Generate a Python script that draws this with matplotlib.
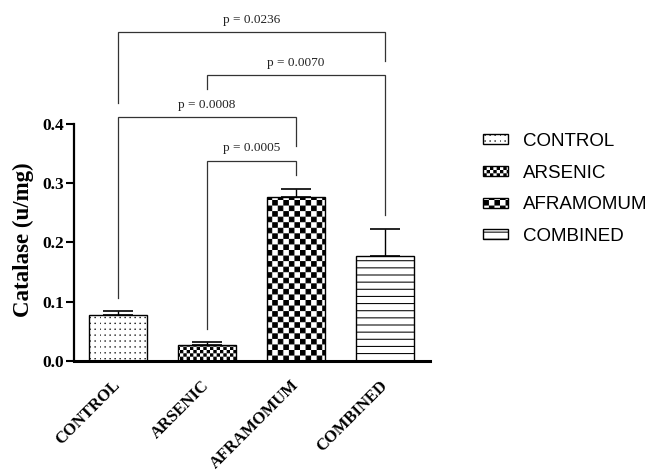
import numpy as np
import matplotlib
matplotlib.use("Agg")
import matplotlib.pyplot as plt
import matplotlib.hatch as mhatch
import matplotlib.transforms as mtransforms
from matplotlib.path import Path

# ---------------- data ----------------
categories = ["CONTROL", "ARSENIC", "AFRAMOMUM", "COMBINED"]
catalase = [0.077, 0.027, 0.276, 0.178]
sem = [0.007, 0.0045, 0.015, 0.045]
yticks = [0.0, 0.1, 0.2, 0.3, 0.4]
ytick_labels = ["0.0", "0.1", "0.2", "0.3", "0.4"]

cmp_pairs = [(0, 3), (1, 3), (0, 2), (1, 2)]
cmp_labels = ["p = 0.0236", "p = 0.0070", "p = 0.0008", "p = 0.0005"]
cmp_height = [0.555, 0.482, 0.411, 0.338]
cmp_left_end = [0.435, 0.459, 0.106, 0.054]
cmp_right_end = [0.506, 0.246, 0.363, 0.314]

# ---------------- custom hatch patterns ----------------
HATCH_LW = 0.75  # points
_inset = (HATCH_LW * 100 / 72) / 2 / 100.0


class _CustomHatch(mhatch.HatchPatternBase):
    char = None

    def __init__(self, hatch, density):
        if hatch is not None and self.char in hatch:
            self.verts, self.codes = self.build()
        else:
            self.verts, self.codes = np.empty((0, 2)), np.empty(0, dtype=Path.code_type)
        self.num_vertices = len(self.verts)

    def set_vertices_and_codes(self, vertices, codes):
        vertices[:] = self.verts
        codes[:] = self.codes


def _squares(cells_x, cells_y, pick, w, h):
    vs, cs = [], []
    sq_codes = [Path.MOVETO, Path.LINETO, Path.LINETO, Path.LINETO, Path.CLOSEPOLY]
    for i in range(cells_x):
        for j in range(cells_y):
            if not pick(i, j):
                continue
            x0, y0 = i / cells_x, j / cells_y
            vs.extend([(x0, y0), (x0 + w, y0), (x0 + w, y0 + h), (x0, y0 + h), (x0, y0)])
            cs.extend(sq_codes)
    return np.array(vs, float), np.array(cs, dtype=Path.code_type)


class BigChecker(_CustomHatch):
    char = "O"

    def build(self):
        n = 18
        s = 1.0 / n - 2 * _inset
        v, c = _squares(n, n, lambda i, j: (i + j) % 2 == 0, s, s)
        return v + _inset, c


class FineChecker(_CustomHatch):
    char = "x"

    def build(self):
        n = 30
        s = 1.0 / n - 2 * _inset
        v, c = _squares(n, n, lambda i, j: (i + j) % 2 == 0, s, s)
        return v + _inset, c


class DotGrid(_CustomHatch):
    char = "."

    def build(self):
        s = 0.003
        v, c = _squares(20, 17, lambda i, j: True, s, s)
        return v, c


class HLines(_CustomHatch):
    char = "-"

    def build(self):
        n = 14
        vs, cs = [], []
        for k in range(n):
            y = (k + 0.5) / n
            vs.extend([(0.0, y), (1.0, y)])
            cs.extend([Path.MOVETO, Path.LINETO])
        return np.array(vs, float), np.array(cs, dtype=Path.code_type)


mhatch._hatch_types = [BigChecker, FineChecker, DotGrid, HLines]

plt.rcParams["hatch.linewidth"] = HATCH_LW
plt.rcParams["hatch.color"] = "black"

hatches = [".", "x", "O", "-"]

# ---------------- figure ----------------
fig = plt.figure(figsize=(6.56, 4.73), dpi=100)
ax = fig.add_axes([73.5 / 656, 112 / 473, 356 / 656, 355.5 / 473])

x = np.arange(len(categories))
bars = ax.bar(x, catalase, width=0.66, color="white", edgecolor="black",
              linewidth=1.0, zorder=2)
for b, h, lab in zip(bars, hatches, categories):
    b.set_hatch(h)
    b.set_label(lab)

ax.errorbar(x, catalase, yerr=[np.zeros(len(sem)), sem], fmt="none",
            ecolor="black", elinewidth=1.0, capsize=10.8, capthick=1.2, zorder=3)

# significance brackets
for (i, j), lab, hgt, le, re in zip(cmp_pairs, cmp_labels, cmp_height,
                                     cmp_left_end, cmp_right_end):
    ax.plot([x[i], x[i], x[j], x[j]], [le, hgt, hgt, re], color="#333333",
            lw=0.9, solid_joinstyle="miter", zorder=1, clip_on=False)
    ax.annotate(lab, xy=((x[i] + x[j]) / 2, hgt), xytext=(0, 4.5),
                textcoords="offset points", ha="center", va="bottom",
                fontsize=9.5, family="Liberation Serif", color="#222222")

ax.set_xlim(-0.5, 3.5)
ax.set_ylim(0, 0.6)

for s in ["top", "right"]:
    ax.spines[s].set_visible(False)
ax.spines["left"].set_bounds(0, 0.4)
ax.spines["left"].set_linewidth(1.6)
ax.spines["bottom"].set_linewidth(2.2)

ax.set_yticks(yticks)
ax.set_yticklabels(ytick_labels, fontsize=12.5, fontweight="bold",
                   family="Liberation Serif")
ax.tick_params(axis="y", length=5.5, width=1.5, pad=1.5)

ax.set_xticks(x)
ax.set_xticklabels(categories, rotation=45, ha="right", va="center",
                   rotation_mode="anchor", fontsize=12, fontweight="bold",
                   family="Liberation Serif")
ax.tick_params(axis="x", length=0, pad=16)

ax.set_ylabel("Catalase (u/mg)", fontsize=16.5, fontweight="bold",
              family="Liberation Serif", va="center")
ax.yaxis.set_label_coords(-0.142, 0.204,
                          transform=mtransforms.blended_transform_factory(
                              ax.transAxes, ax.transData))

fig.legend(handles=list(bars), labels=categories, loc="upper left",
           bbox_to_anchor=(483 / 656, 1 - 133 / 473), frameon=False,
           borderpad=0, borderaxespad=0, handlelength=1.35, handleheight=0.45,
           handletextpad=0.8, labelspacing=0.78,
           prop={"family": "Liberation Sans", "size": 13.5})

fig.savefig("out.png", dpi=100)
